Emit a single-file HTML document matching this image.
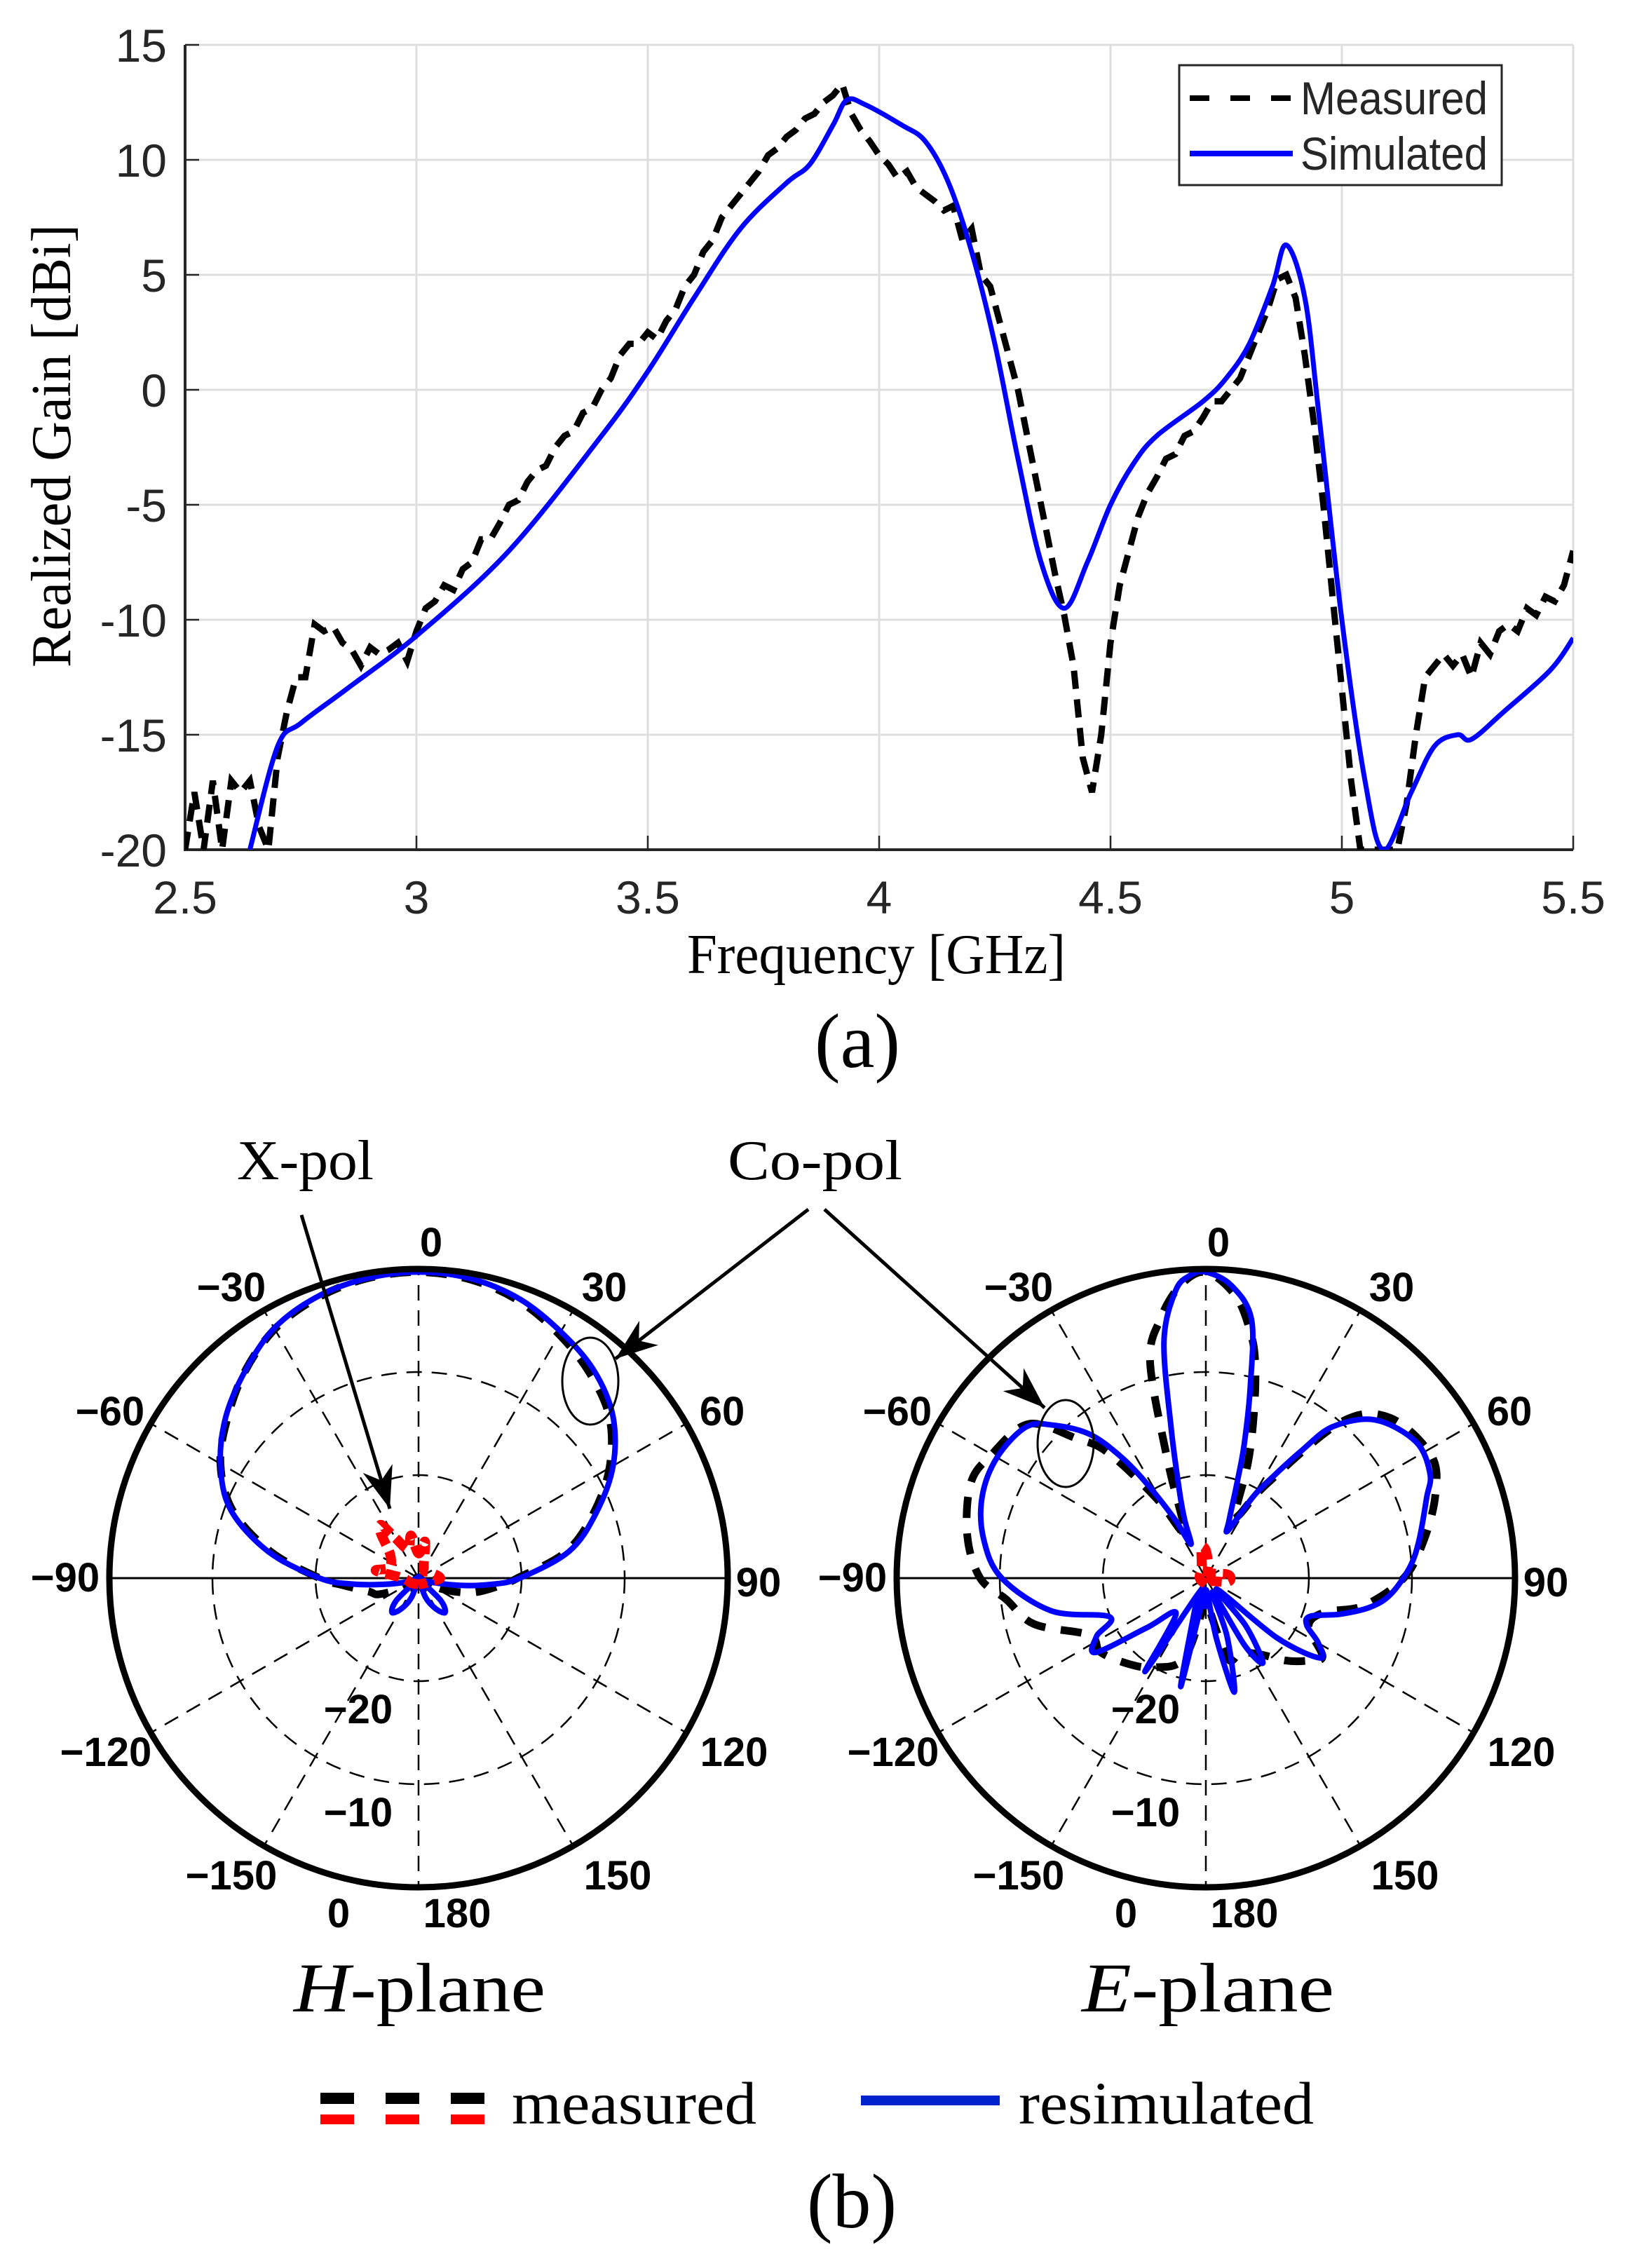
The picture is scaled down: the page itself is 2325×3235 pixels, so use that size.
<!DOCTYPE html>
<html><head><meta charset="utf-8"><style>
html,body{margin:0;padding:0;background:#fff}
svg{display:block}
.tick{font-family:"Liberation Sans",sans-serif;font-size:66px;fill:#262626}
.ser{font-family:"Liberation Serif",serif;fill:#000}
.pl{font-family:"Liberation Sans",sans-serif;font-weight:bold;font-size:58px;fill:#000}
</style></head><body>
<svg id="svg" width="2325" height="3235" viewBox="0 0 2325 3235" xmlns="http://www.w3.org/2000/svg">
<defs><clipPath id="clipA"><rect x="264" y="64" width="1980" height="1148"/></clipPath>
<marker id="ah" markerWidth="60" markerHeight="44" refX="10" refY="5" orient="auto" markerUnits="userSpaceOnUse" viewBox="0 0 10 10" preserveAspectRatio="none"><path d="M0,0 L10,5 L0,10 L3,5 z" fill="#000"/></marker></defs>
<g id="chartA"></g>
<g id="polars"></g>
<text class="ser" x="1250" y="1388" font-size="80" text-anchor="middle" textLength="540" lengthAdjust="spacingAndGlyphs" fill="#262626">Frequency [GHz]</text>
<text class="ser" transform="translate(100,636) rotate(-90)" font-size="80" text-anchor="middle" textLength="632" lengthAdjust="spacingAndGlyphs" fill="#262626">Realized Gain [dBi]</text>
<text class="ser" x="1223" y="1522" font-size="110" text-anchor="middle">(a)</text>
<text class="ser" x="338" y="1682" font-size="80" textLength="195" lengthAdjust="spacingAndGlyphs">X-pol</text>
<text class="ser" x="1038" y="1682" font-size="80" textLength="249" lengthAdjust="spacingAndGlyphs">Co-pol</text>
<text class="ser" x="419" y="2869" font-size="100" textLength="359" lengthAdjust="spacingAndGlyphs"><tspan font-style="italic">H</tspan>-plane</text>
<text class="ser" x="1543" y="2869" font-size="100" textLength="360" lengthAdjust="spacingAndGlyphs"><tspan font-style="italic">E</tspan>-plane</text>
<g>
<line x1="457" y1="2993" x2="692" y2="2993" stroke="#000" stroke-width="16" stroke-dasharray="48,45"/>
<line x1="457" y1="3023" x2="692" y2="3023" stroke="#f00" stroke-width="14" stroke-dasharray="48,45"/>
<text class="ser" x="730" y="3029" font-size="86" textLength="349" lengthAdjust="spacingAndGlyphs">measured</text>
<line x1="1228" y1="2996" x2="1426" y2="2996" stroke="#0022cc" stroke-width="14"/>
<text class="ser" x="1453" y="3029" font-size="86" textLength="421" lengthAdjust="spacingAndGlyphs">resimulated</text>
</g>
<text class="ser" x="1215" y="3177" font-size="110" text-anchor="middle">(b)</text>
</svg>
<script>
// ---- Chart (a) data ----
const simFreq=[2.64,2.7,2.75,2.85,3.0,3.2,3.4,3.5,3.6,3.7,3.8,3.85,3.9,3.93,3.97,4.05,4.1,4.15,4.2,4.25,4.3,4.35,4.4,4.45,4.5,4.55,4.6,4.7,4.75,4.8,4.85,4.88,4.92,4.95,5.0,5.05,5.09,5.15,5.2,5.25,5.28,5.35,5.45,5.5];
const simGain=[-20,-15.5,-14.5,-13,-10.7,-7,-2,0.8,4,7,9,9.8,11.5,12.6,12.4,11.5,10.8,9,6,2,-3,-7.5,-9.5,-7.5,-5,-3.2,-2,-0.5,0.5,2,4.5,6.3,4,-1,-10,-17,-20,-17.5,-15.5,-15,-15.2,-14,-12.2,-10.8];
const measFreq=[2.5,2.52,2.54,2.56,2.58,2.6,2.62,2.64,2.66,2.68,2.7,2.72,2.74,2.76,2.78,2.8,2.82,2.84,2.86,2.88,2.9,2.92,2.94,2.96,2.98,3.0,3.02,3.04,3.06,3.08,3.1,3.12,3.14,3.16,3.18,3.2,3.22,3.24,3.26,3.28,3.3,3.32,3.34,3.36,3.38,3.4,3.42,3.44,3.46,3.48,3.5,3.52,3.54,3.56,3.58,3.6,3.62,3.64,3.66,3.68,3.7,3.72,3.74,3.76,3.78,3.8,3.82,3.84,3.86,3.88,3.9,3.92,3.94,3.96,3.98,4.0,4.02,4.04,4.06,4.08,4.1,4.12,4.14,4.16,4.18,4.2,4.22,4.24,4.26,4.28,4.3,4.32,4.34,4.36,4.38,4.4,4.42,4.44,4.46,4.48,4.5,4.52,4.54,4.56,4.58,4.6,4.62,4.64,4.66,4.68,4.7,4.72,4.74,4.76,4.78,4.8,4.82,4.84,4.86,4.88,4.9,4.92,4.94,4.96,4.98,5.0,5.02,5.04,5.08,5.1,5.12,5.14,5.16,5.18,5.2,5.22,5.24,5.26,5.28,5.3,5.32,5.34,5.36,5.38,5.4,5.42,5.44,5.46,5.48,5.5];
const measGain=[-20,-17.5,-20,-17,-20,-17,-17.5,-17,-19,-20,-16,-14,-12.5,-12.5,-10.2,-10.5,-10.3,-11,-11.3,-12,-11.2,-11.5,-11.3,-11,-11.8,-10.5,-9.5,-9.2,-8.5,-8.7,-7.8,-7.5,-6.5,-6.5,-5.8,-5,-4.8,-4,-3.5,-3.3,-2.5,-2,-1.8,-1,-0.8,0,0.5,1.5,2,2,2.5,2.2,3,3.5,4.5,5,6,6.5,7.5,8,8.5,9,9.5,10.2,10.5,11,11.3,11.8,12,12.5,12.8,13.3,12,11.3,10.8,10.2,9.8,9.2,9.5,8.8,8.5,8.2,7.8,8,6.5,7,5,4.5,3,1.5,0,-2,-4,-6,-8,-9.8,-12,-16,-17.5,-15,-11,-8.5,-7,-5.5,-4.5,-3.8,-3,-2.8,-2,-1.8,-1.2,-0.5,-0.5,0,0.5,1.5,2.5,3.5,4.8,5,4,1.5,-1.5,-5,-9,-13,-17,-20,-20,-20,-20,-18,-15,-12.5,-12,-11.5,-12,-11.5,-12.5,-11,-11.5,-10.5,-10.2,-10.5,-9.5,-9.8,-9,-9.2,-8.5,-7];
const xTicks=[2.5,3,3.5,4,4.5,5,5.5];
const xTickLabels=["2.5","3","3.5","4","4.5","5","5.5"];
const yTicks=[15,10,5,0,-5,-10,-15,-20];
const yTickLabels=["15","10","5","0","-5","-10","-15","-20"];

// ---- Polar data (angle deg clockwise from top, gain dB; center=-30, outer=0) ----
const hSimAng=[-180,-170,-160,-150,-142,-135,-125,-110,-100,-95,-90,-80,-70,-60,-50,-40,-30,-20,-10,0,10,20,30,40,50,60,70,80,90,95,100,110,125,135,142,150,160,170,180];
const hSimDb=[-30,-30,-28,-26.5,-25.8,-27,-30,-29,-26.5,-23.5,-20.4,-15.2,-10.6,-7.8,-5.6,-3.8,-2,-1,-0.5,-0.3,-0.5,-1.2,-2.4,-3.6,-5.4,-8.2,-11.7,-15.2,-20.2,-23,-26,-29,-30,-27,-25.8,-26.5,-28,-30,-30];
const hMeasAng=[-180,-140,-120,-112,-105,-95,-90,-80,-70,-60,-50,-40,-30,-20,-10,0,10,20,30,40,50,60,70,80,90,95,105,115,130,180];
const hMeasDb=[-30,-30,-28,-25.8,-25,-22.5,-20.4,-15.5,-10.8,-7.8,-5.8,-3.8,-2.1,-1.1,-0.5,-0.3,-0.6,-1.4,-2.7,-4.1,-5.8,-8.6,-12,-15.5,-20.4,-22,-24.6,-27.5,-30,-30];
const hXAng=[-180,-120,-90,-80,-70,-50,-40,-35,-30,-20,-10,0,10,20,40,60,90,120,180];
const hXDb=[-29.4,-29.1,-28.5,-25.8,-27,-26.4,-24.3,-23.7,-25.5,-27,-25.8,-27.6,-26.4,-28.5,-29.1,-28.8,-27.9,-29.1,-29.4];
const eSimAng=[-180,-175,-167,-160,-155,-147,-140,-130,-124,-118,-112,-102,-90,-80,-70,-60,-50,-45,-39,-35,-32,-28,-24,-20,-17,-13,-10,-6,-3,0,5,10,13,16,18,22,25,30,33,37,40,47,57,65,70,80,87,95,100,105,110,115,120,125,130,135,140,146,150,155,160,166,170,175,180];
const eSimDb=[-27,-28.5,-19.2,-27,-28.5,-19.2,-25.5,-22.5,-17.1,-18,-19.95,-14.7,-10.2,-8.1,-6.9,-6.6,-7.2,-9,-12,-15.6,-19.2,-23.4,-26.4,-24,-21.3,-15,-6.6,-1.95,-0.6,-0.3,-1.5,-4.5,-10.8,-16.5,-20.1,-24,-24.9,-21,-18.6,-14.4,-10.8,-7.5,-5.7,-6,-7.2,-9,-10.2,-12,-13.8,-16.5,-19.2,-19.2,-17.4,-16.5,-21,-28.5,-24,-20.1,-22.5,-28.5,-24,-18.6,-24,-28.5,-27];
const eMeasAng=[-180,-165,-150,-138,-125,-116,-105,-96,-90,-80,-68,-60,-49,-43,-38,-32,-27,-22,-18,-14.5,-10,-5,0,5.9,10,12.8,16,20,24,27.7,33,41,49,61.5,70,80,90,100,106,115,124,130,136,145,155,165,180];
const eMeasDb=[-28,-22,-20,-18.8,-17.5,-17.4,-12.75,-10.5,-8.1,-6.5,-5.4,-6,-7.2,-11.4,-14.5,-20.7,-25,-24,-18,-8.4,-4.5,-1.5,-0.3,-2.4,-5.5,-8.4,-13,-18,-23,-23.1,-19,-9.9,-6.3,-5.1,-6.3,-8.5,-10.8,-14.5,-18,-19,-16.35,-17.5,-18.9,-21,-22,-22,-28];
const eXAng=[-180,-90,-20,-8,0,8,20,60,80,90,100,120,180];
const eXDb=[-29.4,-29.4,-28.8,-27,-27.3,-28.5,-29.4,-29.1,-27.9,-27.6,-27.9,-29.4,-29.4];
const ringDb=[-20,-10];
const spokeAngles=[0,30,60,90,120,150,180,210,240,270,300,330];
const angLabelVals=[0,30,60,90,120,150,180,-150,-120,-90,-60,-30];

const NS="http://www.w3.org/2000/svg";
function mk(tag,attrs,parent){const e=document.createElementNS(NS,tag);for(const k in attrs)e.setAttribute(k,attrs[k]);parent.appendChild(e);return e;}

// ---- Chart (a) ----
const L=264,R=2244,T=64,B=1212;
const xS=f=>L+(f-2.5)/3*(R-L);
const yS=g=>T+(15-g)/35*(B-T);
const A=document.getElementById('chartA');
xTicks.forEach((t,i)=>{
  const g=mk('line',{x1:xS(t),x2:xS(t),y1:T,y2:B,stroke:'#dedede','stroke-width':3},A);
  
  
  const tk=mk('line',{x1:xS(t),x2:xS(t),y1:B,y2:B-20,stroke:'#262626','stroke-width':2.5},A);
  
  
  const tx=mk('text',{x:xS(t),y:1303,'text-anchor':'middle',class:'tick'},A);
  tx.textContent=xTickLabels[i];
  
  
});
yTicks.forEach((t,i)=>{
  const g=mk('line',{x1:L,x2:R,y1:yS(t),y2:yS(t),stroke:'#dedede','stroke-width':3},A);
  
  
  const tk=mk('line',{x1:L,x2:L+20,y1:yS(t),y2:yS(t),stroke:'#262626','stroke-width':2.5},A);
  
  
  const tx=mk('text',{x:238,y:yS(t)+24,'text-anchor':'end',class:'tick'},A);
  tx.textContent=yTickLabels[i];
  
  
});
const ax=mk('path',{d:`M${L},${T} L${L},${B} L${R},${B}`,fill:'none',stroke:'#262626','stroke-width':4},A);


const clipG=mk('g',{'clip-path':'url(#clipA)'},A);
const mp=mk('polyline',{points:measFreq.map((f,i)=>xS(f)+','+yS(measGain[i])).join(' '),fill:'none',stroke:'#000','stroke-width':9,'stroke-dasharray':'26,15'},clipG);


function smooth(pts){
  let d='M'+pts[0][0]+','+pts[0][1];
  const n=pts.length;
  for(let i=0;i<n-1;i++){
    const p0=pts[Math.max(0,i-1)],p1=pts[i],p2=pts[i+1],p3=pts[Math.min(n-1,i+2)];
    const c1=[p1[0]+(p2[0]-p0[0])/6,p1[1]+(p2[1]-p0[1])/6];
    const c2=[p2[0]-(p3[0]-p1[0])/6,p2[1]-(p3[1]-p1[1])/6];
    d+=` C${c1[0].toFixed(1)},${c1[1].toFixed(1)} ${c2[0].toFixed(1)},${c2[1].toFixed(1)} ${p2[0].toFixed(1)},${p2[1].toFixed(1)}`;
  }
  return d;
}
const sp=mk('path',{d:smooth(simFreq.map((f,i)=>[xS(f),yS(simGain[i])])),fill:'none',stroke:'#0000ff','stroke-width':7},clipG);


// legend
const lg=mk('g',{},A);


mk('rect',{x:1682,y:93,width:460,height:171,fill:'#fff',stroke:'#262626','stroke-width':3},lg);
const l1=mk('line',{x1:1697,x2:1844,y1:140,y2:140,stroke:'#000','stroke-width':8,'stroke-dasharray':'28,30'},lg);


const t1=mk('text',{x:1855,y:163,class:'tick',fill:'#000',textLength:267,lengthAdjust:'spacingAndGlyphs','font-size':60},lg);
t1.textContent='Measured';


const l2=mk('line',{x1:1697,x2:1844,y1:219,y2:219,stroke:'#0000ff','stroke-width':8},lg);


const t2=mk('text',{x:1855,y:242,class:'tick',fill:'#000',textLength:267,lengthAdjust:'spacingAndGlyphs','font-size':60},lg);
t2.textContent='Simulated';



// ---- Polar charts ----
const P=document.getElementById('polars');
const RAD=441;
function rS(db){return Math.max(0,(db+30)/30)*RAD;}
function pt(cx,cy,ang,db){const a=ang*Math.PI/180,r=rS(db);return [cx+r*Math.sin(a),cy-r*Math.cos(a)];}
function polar(cx,cy,name,sets){
  const g=mk('g',{},P);
  
  
  ringDb.forEach(db=>{
    const c=mk('circle',{cx:cx,cy:cy,r:rS(db),fill:'none',stroke:'#000','stroke-width':2.5,'stroke-dasharray':'22,14'},g);
    
    
  });
  spokeAngles.forEach(a=>{
    if(a===90||a===270)return;
    const p=pt(cx,cy,a,0);
    const s=mk('line',{x1:cx,y1:cy,x2:p[0],y2:p[1],stroke:'#000','stroke-width':2.5,'stroke-dasharray':'22,14'},g);
    
    
  });
  const h=mk('line',{x1:cx-RAD,y1:cy,x2:cx+RAD,y2:cy,stroke:'#000','stroke-width':3},g);
  
  
  sets.forEach(s=>{
    const pts=s.ang.map((a,i)=>pt(cx,cy,a,s.db[i]));
    const e=mk('path',{d:smooth(pts),fill:'none',stroke:s.color,'stroke-width':s.w,'stroke-dasharray':s.dash||'none','stroke-linejoin':'round'},g);
    
    
  });
  const oc=mk('circle',{cx:cx,cy:cy,r:RAD,fill:'none',stroke:'#000','stroke-width':9},g);
  
  
  const labPos=[[18,-480],[265,-416],[433,-239],[485,5],[450,247],[284,423],[55,477],[-267,423],[-446,247],[-504,-2],[-440,-239],[-267,-416]];
  angLabelVals.forEach((v,i)=>{
    const t=mk('text',{x:cx+labPos[i][0],y:cy+labPos[i][1]+21,'text-anchor':'middle',class:'pl'},g);
    t.textContent=(v<0?'\u2212':'')+Math.abs(v);
    
    
  });
  [['\u221220',-86,186],['\u221210',-86,333],['0',-114,477]].forEach(r=>{
    const t=mk('text',{x:cx+r[1],y:cy+r[2]+21,'text-anchor':'middle',class:'pl'},g);
    t.textContent=r[0];
    
    
  });
}
polar(597,2251,'h-plane-polar',[
 {ang:hMeasAng,db:hMeasDb,color:'#000',w:11,dash:'30,22',name:'h-measured-copol'},
 {ang:hSimAng,db:hSimDb,color:'#0000ff',w:8,name:'h-simulated-copol'},
 {ang:hXAng,db:hXDb,color:'#ff0000',w:14,dash:'20,10',name:'h-measured-xpol'}
]);
polar(1720,2251,'e-plane-polar',[
 {ang:eMeasAng,db:eMeasDb,color:'#000',w:11,dash:'30,22',name:'e-measured-copol'},
 {ang:eSimAng,db:eSimDb,color:'#0000ff',w:8,name:'e-simulated-copol'},
 {ang:eXAng,db:eXDb,color:'#ff0000',w:14,dash:'20,10',name:'e-measured-xpol'}
]);
// annotations
const an=mk('g',{},P);


const a1=mk('line',{x1:430,y1:1733,x2:556,y2:2152,stroke:'#000','stroke-width':5,'marker-end':'url(#ah)'},an);


const a2=mk('line',{x1:1153,y1:1725,x2:878,y2:1938,stroke:'#000','stroke-width':5,'marker-end':'url(#ah)'},an);


const a3=mk('line',{x1:1176,y1:1725,x2:1490,y2:2008,stroke:'#000','stroke-width':5,'marker-end':'url(#ah)'},an);


const e1=mk('ellipse',{cx:842,cy:1970,rx:40,ry:62,fill:'none',stroke:'#000','stroke-width':3},an);


const e2=mk('ellipse',{cx:1520,cy:2059,rx:40,ry:62,fill:'none',stroke:'#000','stroke-width':3},an);


</script>
</body></html>
